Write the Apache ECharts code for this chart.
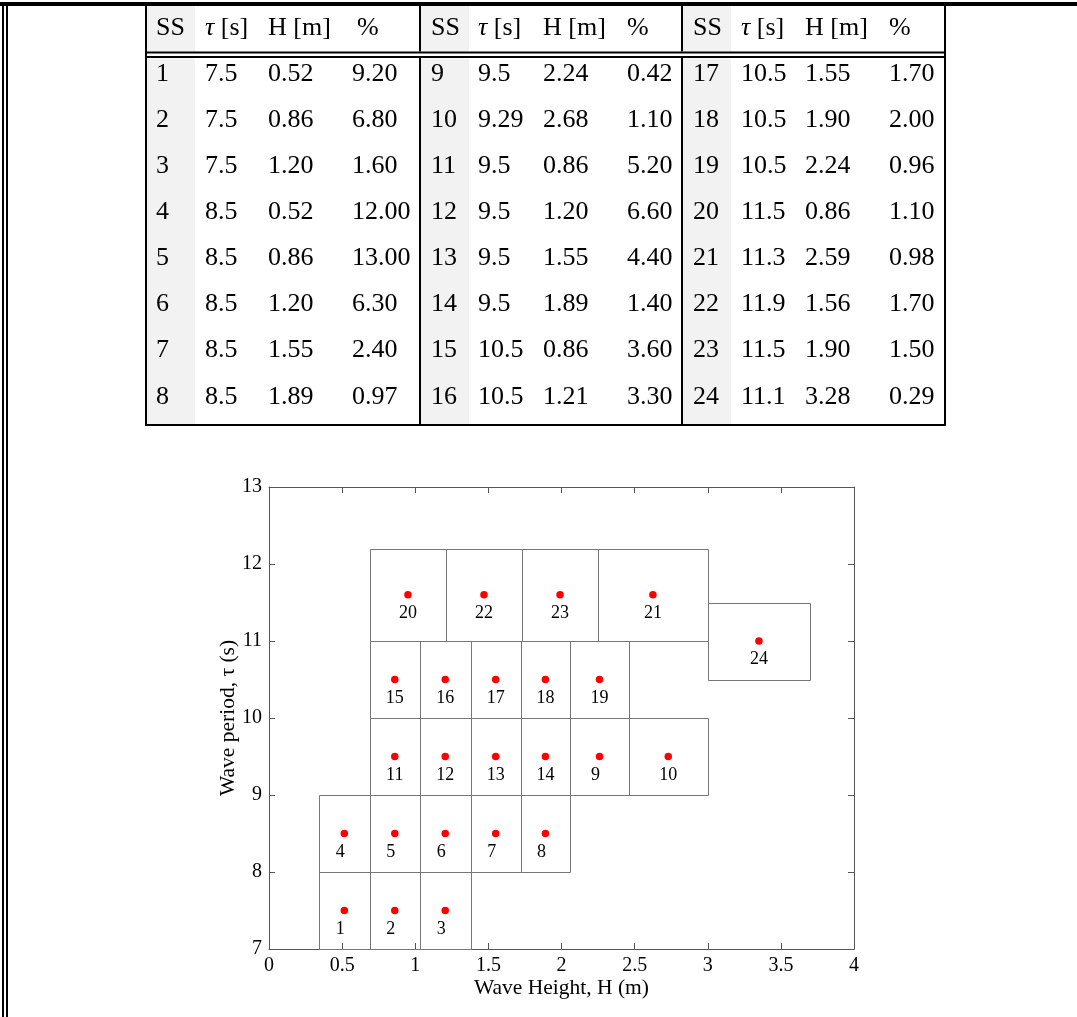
<!DOCTYPE html>
<html>
<head>
<meta charset="utf-8">
<script src="https://cdn.jsdelivr.net/npm/echarts@6/dist/echarts.min.js"></script>
<style>
html,body{margin:0;padding:0;background:#fff;}
#chart{width:1077px;height:1017px;}
</style>
</head>
<body>
<div id="chart"></div>
<script>
// ---------- Table data ----------
const tableSS  = ['1','2','3','4','5','6','7','8','9','10','11','12','13','14','15','16','17','18','19','20','21','22','23','24'];
const tableTau = ['7.5','7.5','7.5','8.5','8.5','8.5','8.5','8.5','9.5','9.29','9.5','9.5','9.5','9.5','10.5','10.5','10.5','10.5','10.5','11.5','11.3','11.9','11.5','11.1'];
const tableH   = ['0.52','0.86','1.20','0.52','0.86','1.20','1.55','1.89','2.24','2.68','0.86','1.20','1.55','1.89','0.86','1.21','1.55','1.90','2.24','0.86','2.59','1.56','1.90','3.28'];
const tablePct = ['9.20','6.80','1.60','12.00','13.00','6.30','2.40','0.97','0.42','1.10','5.20','6.60','4.40','1.40','3.60','3.30','1.70','2.00','0.96','1.10','0.98','1.70','1.50','0.29'];
const tableHeaders = ['SS', '{i|τ} [s]', 'H [m]', '%'];

// ---------- Chart data: sea-state cells (H range, tau range) ----------
const cellLabels = ['1','2','3','4','5','6','7','8','11','12','13','14','9','10','15','16','17','18','19','20','22','23','21','24'];
const cellH0 = [0.34,0.69,1.03,0.34,0.69,1.03,1.38,1.72,0.69,1.03,1.38,1.72,2.06,2.46,0.69,1.03,1.38,1.72,2.06,0.69,1.21,1.73,2.25,3.00];
const cellH1 = [0.69,1.03,1.38,0.69,1.03,1.38,1.72,2.06,1.03,1.38,1.72,2.06,2.46,3.00,1.03,1.38,1.72,2.06,2.46,1.21,1.73,2.25,3.00,3.70];
const cellT0 = [7,7,7,8,8,8,8,8,9,9,9,9,9,9,10,10,10,10,10,11,11,11,11,10.5];
const cellT1 = [8,8,8,9,9,9,9,9,10,10,10,10,10,10,11,11,11,11,11,12.2,12.2,12.2,12.2,11.5];
// red dot positions
const dotH = [0.515,0.86,1.205,0.515,0.86,1.205,1.55,1.89,0.86,1.205,1.55,1.89,2.26,2.73,0.86,1.205,1.55,1.89,2.26,0.95,1.47,1.99,2.625,3.35];
const dotT = [7.5,7.5,7.5,8.5,8.5,8.5,8.5,8.5,9.5,9.5,9.5,9.5,9.5,9.5,10.5,10.5,10.5,10.5,10.5,11.6,11.6,11.6,11.6,11.0];

const xTicks = ['0','0.5','1','1.5','2','2.5','3','3.5','4'];
const yTicks = ['7','8','9','10','11','12','13'];

// ---------- Layout ----------
const FONT = '"Liberation Serif", "Times New Roman", serif';
const groupCols = [[156,205,268,352],[431,478,543,627],[693,741,805,889]];
const headerX = [[156,205,268,357],[431,478,543,627],[693,741,805,889]];
const shadeX = [147,421,683];
const headerY = 28;
const rowY0 = 74, rowStep = 46.1;

const graphics = [];
// page frame lines
graphics.push({type:'rect', shape:{x:0,y:2,width:1077,height:4}, style:{fill:'#000'}, z:10});
graphics.push({type:'rect', shape:{x:2,y:2,width:2,height:1015}, style:{fill:'#000'}, z:10});
graphics.push({type:'rect', shape:{x:6,y:6,width:2,height:1011}, style:{fill:'#000'}, z:10});
// shaded SS columns
shadeX.forEach(function(x){
  graphics.push({type:'rect', shape:{x:x,y:6,width:48,height:418}, style:{fill:'#f2f2f2'}, z:1});
});
// header double line (white gap between)
graphics.push({type:'rect', shape:{x:145,y:51.5,width:801,height:7}, style:{fill:'#fff'}, z:2});
graphics.push({type:'rect', shape:{x:145,y:51.5,width:801,height:2}, style:{fill:'#000'}, z:3});
graphics.push({type:'rect', shape:{x:145,y:56,width:801,height:2}, style:{fill:'#000'}, z:3});
// table borders
graphics.push({type:'rect', shape:{x:145,y:6,width:2,height:420}, style:{fill:'#000'}, z:3});
graphics.push({type:'rect', shape:{x:944,y:6,width:2,height:420}, style:{fill:'#000'}, z:3});
graphics.push({type:'rect', shape:{x:145,y:424,width:801,height:2}, style:{fill:'#000'}, z:3});
graphics.push({type:'rect', shape:{x:419,y:6,width:2,height:45.5}, style:{fill:'#000'}, z:3});
graphics.push({type:'rect', shape:{x:681,y:6,width:2,height:45.5}, style:{fill:'#000'}, z:3});
graphics.push({type:'rect', shape:{x:419,y:58,width:2,height:366}, style:{fill:'#000'}, z:3});
graphics.push({type:'rect', shape:{x:681,y:58,width:2,height:366}, style:{fill:'#000'}, z:3});

function txt(s, x, y){
  return {type:'text', z:5, style:{text:s, x:x, y:y, fill:'#000', fontSize:26, fontFamily:'Liberation Serif',
    align:'left', verticalAlign:'middle', textAlign:'left', textVerticalAlign:'middle',
    rich:{i:{fontStyle:'italic', fontSize:26, fontFamily:'Liberation Serif', fill:'#000'}}}};
}
for (let g = 0; g < 3; g++) {
  for (let c = 0; c < 4; c++) graphics.push(txt(tableHeaders[c], headerX[g][c], headerY));
  for (let r = 0; r < 8; r++) {
    const k = g*8 + r;
    const y = rowY0 + r*rowStep;
    const cols = groupCols[g];
    graphics.push(txt(tableSS[k], cols[0], y));
    graphics.push(txt(tableTau[k], cols[1], y));
    graphics.push(txt(tableH[k], cols[2], y));
    graphics.push(txt(tablePct[k], cols[3], y));
  }
}

const rectData = cellH0.map(function(h0,i){ return [h0, cellH1[i], cellT0[i], cellT1[i]]; });
const dotData = dotH.map(function(h,i){ return {value:[h, dotT[i]], name:cellLabels[i],
  label:{offset: cellLabels[i].length === 1 ? [-4,0] : [0,0]}}; });

const axisColor = '#555';
function axisLine(){ return {show:true, onZero:false, lineStyle:{color:axisColor, width:1}}; }
function axisTick(){ return {show:true, inside:true, length:6, lineStyle:{color:axisColor}}; }
const chart = echarts.init(document.getElementById('chart'), null, {renderer:'canvas'});
chart.setOption({
  animation:false,
  backgroundColor:'#fff',
  graphic: graphics,
  grid:{left:269, right:223, top:487, bottom:68, containLabel:false},
  xAxis:[{
    type:'value', min:0, max:4, interval:0.5, position:'bottom',
    name:'Wave Height, H (m)', nameLocation:'middle', nameGap:28, nameMoveOverlap:false,
    nameTextStyle:{fontSize:21.5, fontFamily:FONT, color:'#000'},
    axisLine:axisLine(), axisTick:axisTick(),
    axisLabel:{fontSize:20, fontFamily:FONT, color:'#000', margin:7,
      formatter:function(v){ const i = Math.round(v/0.5); return xTicks[i] !== undefined ? xTicks[i] : ''; }},
    splitLine:{show:false}
  },{
    type:'value', min:0, max:4, interval:0.5, position:'top',
    axisLine:axisLine(), axisTick:axisTick(),
    axisLabel:{show:false}, splitLine:{show:false}
  }],
  yAxis:[{
    type:'value', min:7, max:13, interval:1, position:'left',
    name:'Wave period, τ (s)', nameLocation:'middle', nameGap:30, nameRotate:90, nameMoveOverlap:false,
    nameTextStyle:{fontSize:21.5, fontFamily:FONT, color:'#000'},
    axisLine:axisLine(), axisTick:axisTick(),
    axisLabel:{fontSize:20, fontFamily:FONT, color:'#000', margin:7,
      formatter:function(v){ const i = Math.round(v-7); return yTicks[i] !== undefined ? yTicks[i] : ''; }},
    splitLine:{show:false}
  },{
    type:'value', min:7, max:13, interval:1, position:'right',
    axisLine:axisLine(), axisTick:axisTick(),
    axisLabel:{show:false}, splitLine:{show:false}
  }],
  series:[{
    type:'custom',
    xAxisIndex:0, yAxisIndex:0,
    data: rectData,
    encode:{x:[0,1], y:[2,3]},
    renderItem:function(params, api){
      const p0 = api.coord([api.value(0), api.value(3)]);
      const p1 = api.coord([api.value(1), api.value(2)]);
      const x0 = Math.round(p0[0]) + 0.5, y0 = Math.round(p0[1]) + 0.5;
      const x1 = Math.round(p1[0]) + 0.5, y1 = Math.round(p1[1]) + 0.5;
      return {type:'rect', shape:{x:x0, y:y0, width:x1-x0, height:y1-y0},
        style:{fill:null, stroke:'#777', lineWidth:1}};
    },
    z:2
  },{
    type:'scatter',
    xAxisIndex:0, yAxisIndex:0,
    data: dotData,
    symbol:'circle', symbolSize:7.5,
    itemStyle:{color:'#ff0000', opacity:1},
    label:{show:true, position:'bottom', distance:6, formatter:'{b}',
      fontSize:18, fontFamily:FONT, color:'#000'},
    z:3
  }]
});
</script>
</body>
</html>
